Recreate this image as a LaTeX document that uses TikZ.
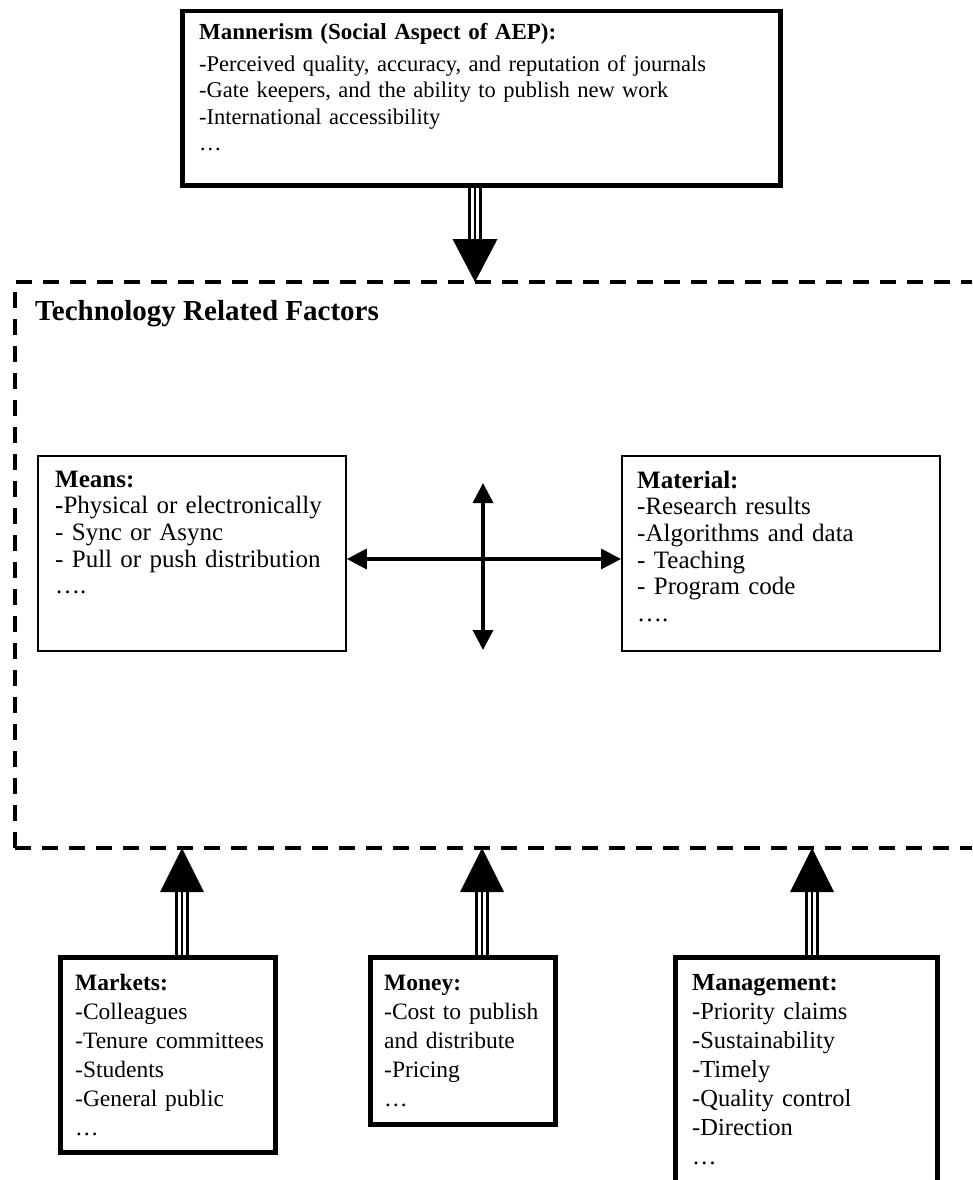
\documentclass[tikz,border=0pt]{standalone}
\usepackage{fontspec}
\setmainfont{Liberation Serif}
\usetikzlibrary{arrows.meta,calc}
\begin{document}
\begin{tikzpicture}[x=1pt,y=-1pt,
  thickbox/.style={draw=black,line width=4.5pt,rectangle,inner sep=0pt,anchor=north west},
  thinbox/.style={draw=black,line width=1.8pt,rectangle,inner sep=0pt,anchor=north west},
  txt/.style={anchor=base west,inner sep=0pt,align=left},
  topfont/.style={font=\fontsize{22.5}{26.5}\selectfont},
  midfont/.style={font=\fontsize{25}{26.7}\selectfont},
  botfont/.style={font=\fontsize{23.5}{29}\selectfont},
  dashframe/.style={line width=4.7pt,dash pattern=on 16pt off 11pt},
  cross/.style={line width=3.5pt,{Triangle[length=20pt,width=20pt]}-{Triangle[length=20pt,width=20pt]}},
  shaft/.style={draw=black,line width=14pt,postaction={draw=white,line width=8pt},postaction={draw=black,line width=2pt}},
  head/.style={fill=black,draw=none}]
\useasboundingbox (0,0) rectangle (972,1180);

% top box
\node[thickbox,minimum width=598pt,minimum height=174pt] (mann) at (180,9) {};
\node[txt,topfont,text width=570pt] (manntxt) at (199,40)
 {{\bfseries\fontsize{23}{26.5}\selectfont Mannerism (Social Aspect of AEP):}\\[5pt]
  -Perceived quality, accuracy, and reputation of journals\\
  -Gate keepers, and the ability to publish new work\\
  -International accessibility\\
  …};

% dashed frame
\draw[dashframe] (15,848) -- (15,282) -- (972,282);
\draw[dashframe] (15,848) -- (972,848);
\node[txt,font=\bfseries\fontsize{29}{34}\selectfont] (trf) at (35,320) {Technology Related Factors};

% arrow down from top box
\coordinate (ftop) at (475,282);
\draw[shaft] (mann.south -| ftop) -- ($(ftop)+(0,-43)$);
\fill[head] (ftop) -- ++(-22.5,-43) -- ++(45,0) -- cycle;

% means / material
\node[thinbox,minimum width=308pt,minimum height=195pt] (means) at (37,455) {};
\node[txt,midfont,text width=285pt] (meanstxt) at (55,487)
 {\textbf{Means:}\\
  \textbf{-}Physical or electronically\\
  - Sync or Async\\
  - Pull or push distribution\\
  ….};
\node[thinbox,minimum width=318pt,minimum height=195pt] (mat) at (621,455) {};
\node[txt,midfont,text width=290pt] (mattxt) at (637,488)
 {\textbf{Material:}\\
  -Research results\\
  -Algorithms and data\\
  - Teaching\\
  - Program code\\
  ….};

\coordinate (hc) at (483,559);
\coordinate (vtop) at (483,483);
\coordinate (vbot) at (483,650);
\draw[cross] (means.east |- hc) -- (mat.west |- hc);
\draw[cross] (vtop) -- (vbot);

% bottom boxes
\node[thickbox,minimum width=215pt,minimum height=195pt] (mkt) at (58,955) {};
\node[txt,botfont,text width=200pt] (mkttxt) at (75,990)
 {\textbf{Markets:}\\
  -Colleagues\\
  -Tenure committees\\
  -Students\\
  -General public\\
  …};
\node[thickbox,minimum width=185pt,minimum height=167pt] (money) at (368,955) {};
\node[txt,botfont,text width=170pt] (moneytxt) at (384,990)
 {\textbf{Money:}\\
  -Cost to publish\\
  and distribute\\
  -Pricing\\
  …};
\node[thickbox,minimum width=262pt,minimum height=270pt] (mgmt) at (673,955) {};
\node[txt,font=\fontsize{24.5}{29}\selectfont,text width=240pt] (mgmttxt) at (692,990)
 {\textbf{Management:}\\
  -Priority claims\\
  -Sustainability\\
  -Timely\\
  -Quality control\\
  -Direction\\
  …};

% up arrows
\coordinate (tmk) at (182,848);
\coordinate (tmo) at (482,848);
\coordinate (tmg) at (812,848);
\foreach \t/\b in {tmk/mkt,tmo/money,tmg/mgmt}{
  \draw[shaft] (\b.north -| \t) -- ($(\t)+(0,44)$);
  \fill[head] (\t) -- ++(-22,44) -- ++(44,0) -- cycle;
}
\end{tikzpicture}
\end{document}
